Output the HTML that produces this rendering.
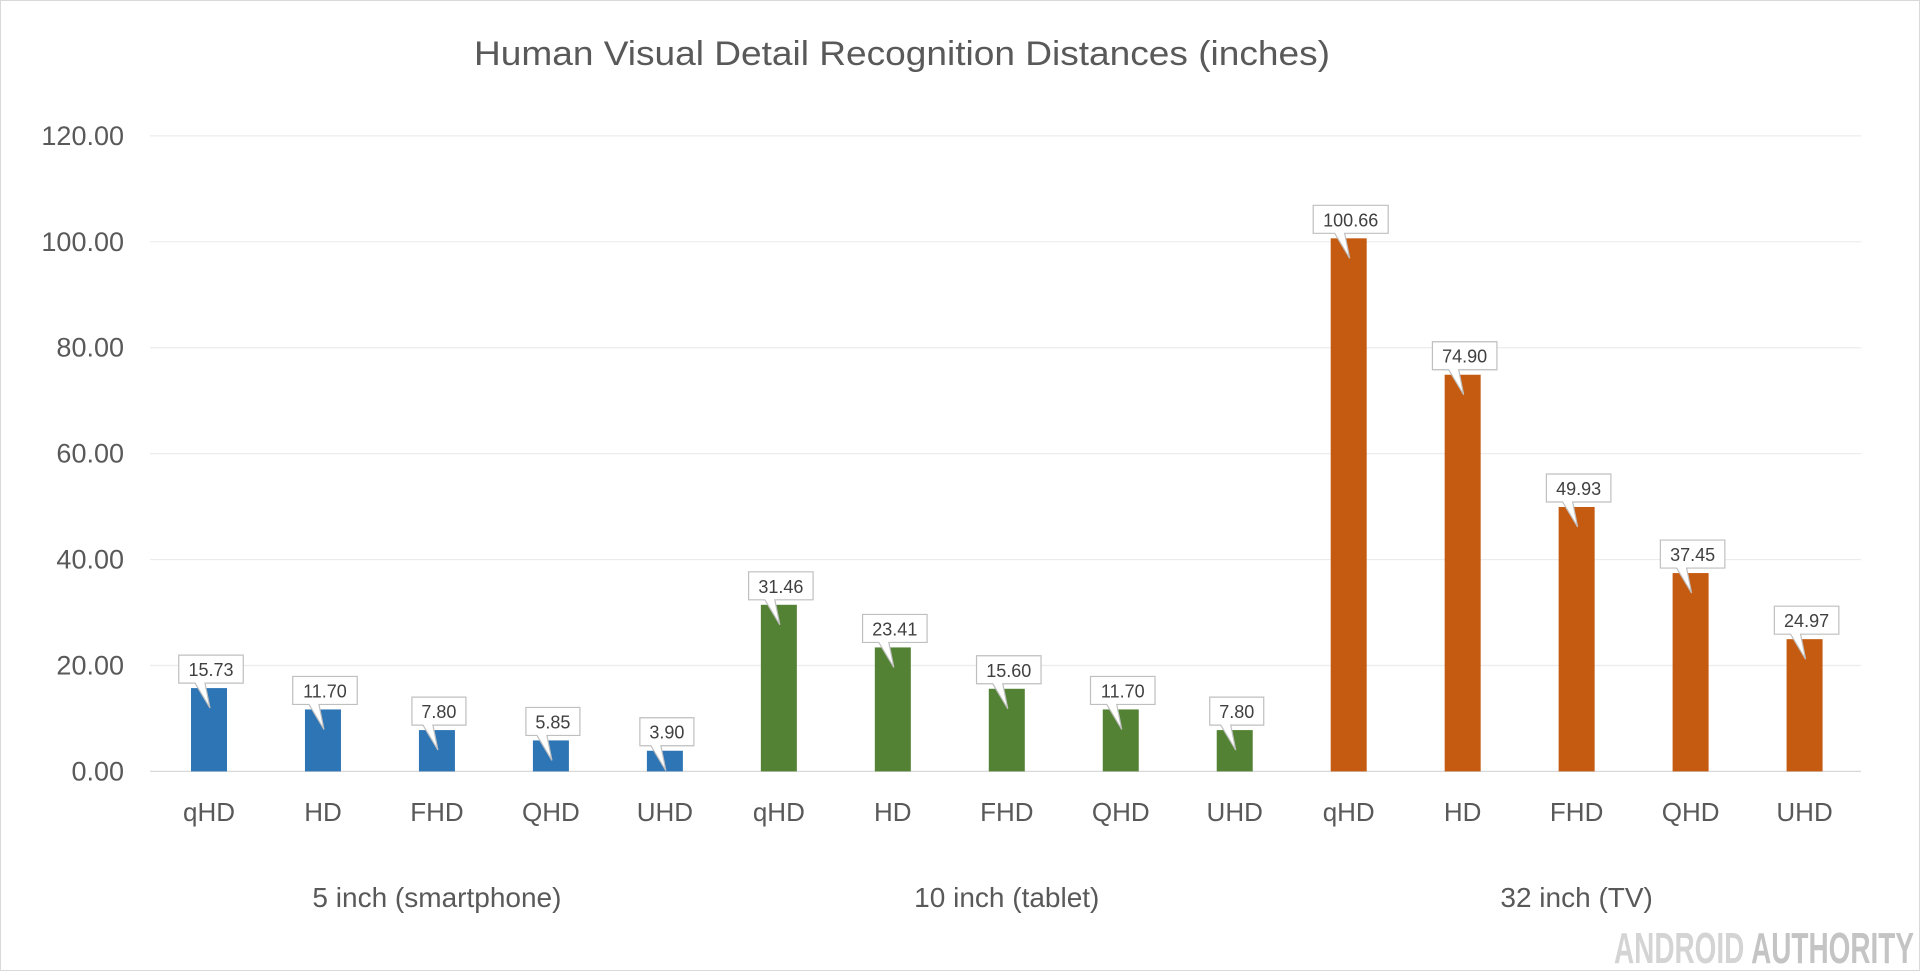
<!DOCTYPE html>
<html><head><meta charset="utf-8"><style>
html,body{margin:0;padding:0;background:#fff;}
svg{display:block;font-family:"Liberation Sans",sans-serif;}
</style></head><body>
<svg id="c" width="1920" height="971" viewBox="0 0 1920 971" xmlns="http://www.w3.org/2000/svg"></svg>
<script>
const s=document.getElementById('c');
let h='<rect x="0.5" y="0.5" width="1919" height="970" fill="#fff" stroke="#d9d9d9"/>';
h+='<text x="902" y="65" font-size="34" fill="#595959" text-anchor="middle" textLength="856" lengthAdjust="spacingAndGlyphs">Human Visual Detail Recognition Distances (inches)</text>';
const y0=771.4,k=(771.4-135.9)/120;
for(let i=0;i<=6;i++){const y=y0-i*20*k;
 h+=`<line x1="150" x2="1861" y1="${y}" y2="${y}" stroke="${i==0?'#d9d9d9':'#ececec'}" stroke-width="1.2"/>`;
 h+=`<text x="124" y="${y+9}" font-size="27" fill="#595959" text-anchor="end">${(i*20).toFixed(2)}</text>`;}
const v=[15.73,11.70,7.80,5.85,3.90,31.46,23.41,15.60,11.70,7.80,100.66,74.90,49.93,37.45,24.97];
const cats=['qHD','HD','FHD','QHD','UHD'];const col=['#2E75B6','#548235','#C55A11'];
for(let i=0;i<15;i++){const cx=209+i*113.97,t=y0-v[i]*k;
 h+=`<rect x="${cx-18}" y="${t}" width="36" height="${y0-t}" fill="${col[Math.floor(i/5)]}"/>`;
 h+=`<text x="${cx}" y="821" font-size="26" fill="#595959" text-anchor="middle">${cats[i%5]}</text>`;
 const lab=v[i].toFixed(2),w=lab.length*10.5+12,bx=cx-w/2+2,by=t-33,bb=t-5;
 h+=`<path d="M${bx} ${by} H${bx+w} V${bb} H${cx-4} L${cx+1} ${t+20} L${cx-14} ${bb} H${bx} Z" fill="#fff" stroke="#bfbfbf" stroke-width="1.2"/>`;
 h+=`<text x="${bx+w/2}" y="${bb-7}" font-size="18" fill="#404040" text-anchor="middle">${lab}</text>`;}
const g=['5 inch (smartphone)','10 inch (tablet)','32 inch (TV)'];
for(let j=0;j<3;j++)h+=`<text x="${209+(j*5+2)*113.97}" y="907" font-size="28" fill="#595959" text-anchor="middle">${g[j]}</text>`;
h+='<text x="1914" y="963" font-size="44" font-weight="bold" fill="#d4d4d4" text-anchor="end" textLength="300" lengthAdjust="spacingAndGlyphs" font-family="Liberation Sans Narrow, Liberation Sans, sans-serif">ANDROID <tspan fill="#c4c4c4">AUTHORITY</tspan></text>';
s.innerHTML=h;
</script>
</body></html>
